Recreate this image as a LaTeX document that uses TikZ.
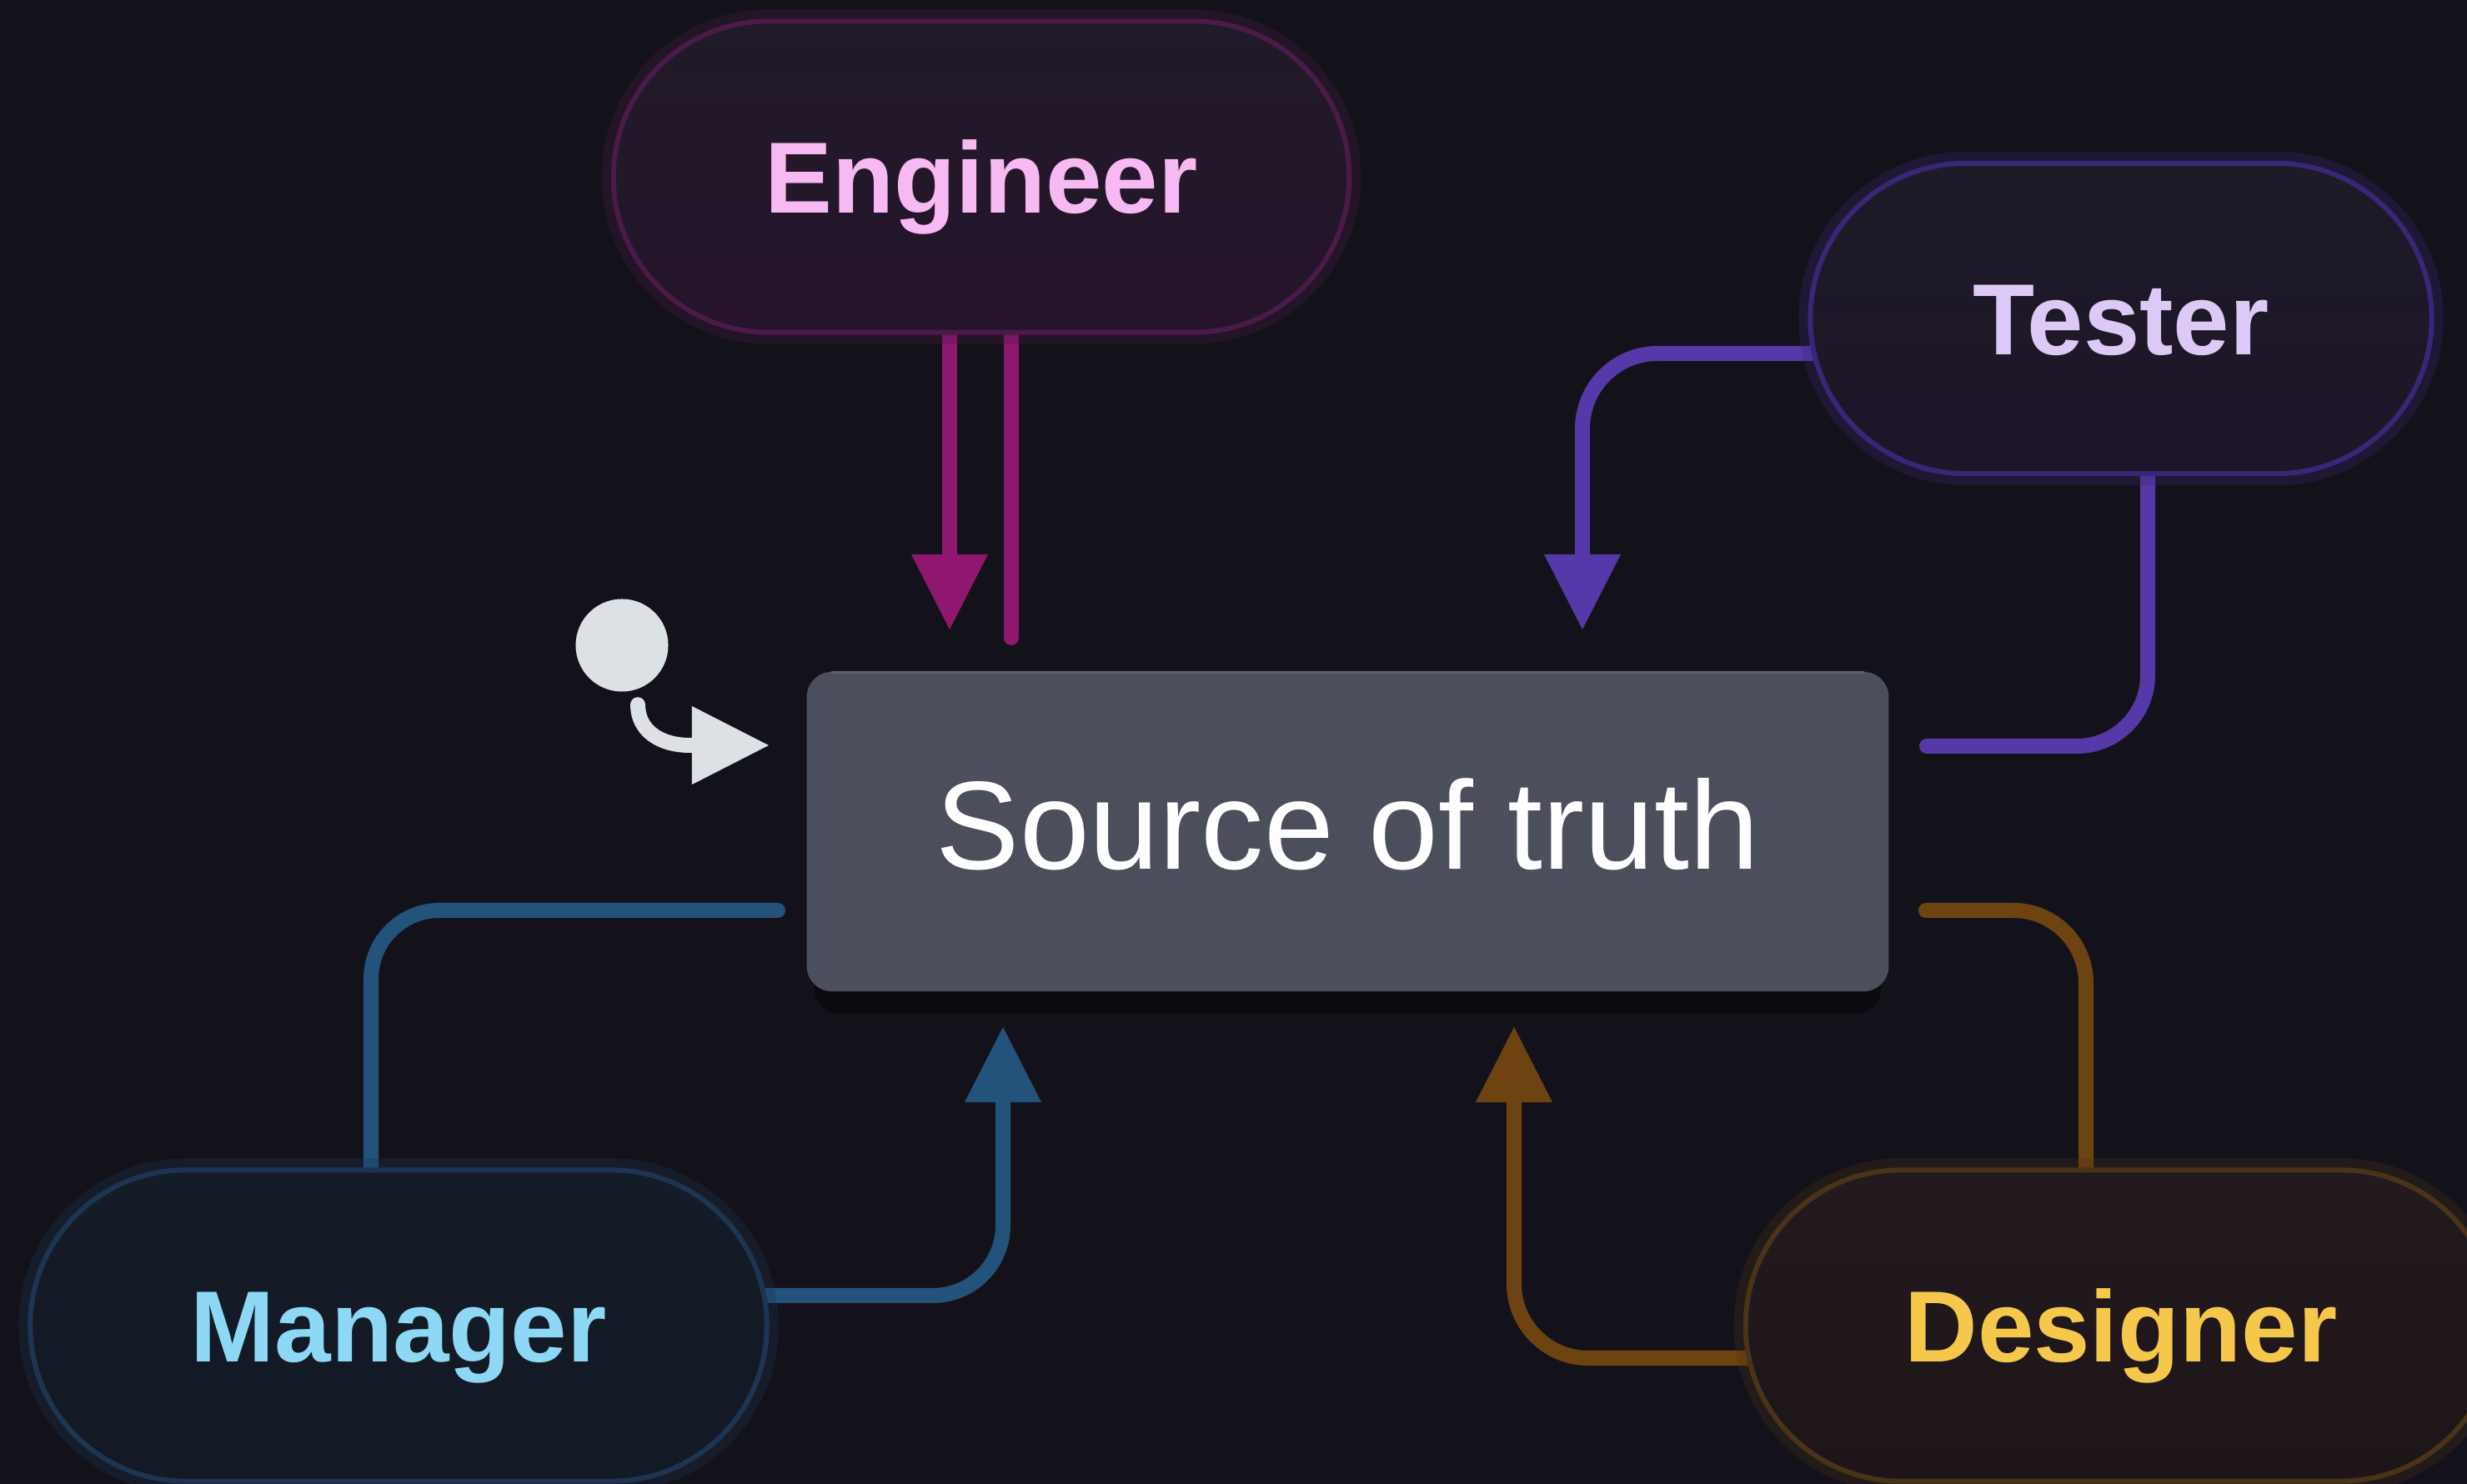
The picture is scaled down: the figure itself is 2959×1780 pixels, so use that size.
\documentclass[tikz,border=0pt]{standalone}
\usepackage{fontspec}
\setmainfont{Liberation Sans}
\usetikzlibrary{arrows.meta,calc}
\definecolor{bgc}{HTML}{13121A}
\definecolor{engline}{HTML}{8F1770}
\definecolor{engtext}{HTML}{F7B9F2}
\definecolor{engborder}{HTML}{4A1A48}
\definecolor{engtop}{HTML}{211A28}
\definecolor{engbot}{HTML}{25142B}
\definecolor{tesline}{HTML}{5539A8}
\definecolor{testext}{HTML}{DCC9F5}
\definecolor{tesborder}{HTML}{392676}
\definecolor{testop}{HTML}{1D1B28}
\definecolor{tesbot}{HTML}{1E1528}
\definecolor{manline}{HTML}{23527A}
\definecolor{mantext}{HTML}{8DD8F5}
\definecolor{manborder}{HTML}{1D3552}
\definecolor{mantop}{HTML}{141C28}
\definecolor{manbot}{HTML}{131925}
\definecolor{desline}{HTML}{6E4312}
\definecolor{destext}{HTML}{F5C84C}
\definecolor{desborder}{HTML}{4A3318}
\definecolor{destop}{HTML}{221A1E}
\definecolor{desbot}{HTML}{1D1518}
\definecolor{srcfill}{HTML}{4B4F5C}
\definecolor{srcedge}{HTML}{5E626D}
\definecolor{shadowc}{HTML}{0A0A0F}
\definecolor{startc}{HTML}{DCE1E5}
\pgfdeclarelayer{back}
\pgfdeclarelayer{conns}
\pgfsetlayers{back,conns,main}
\begin{document}
\begin{tikzpicture}[x=0.01cm,y=-0.01cm,
  pill/.style={rectangle, rounded corners=1.86cm, minimum height=3.73cm, inner sep=0pt,
    line width=0.06cm, font=\fontsize{34.5}{40}\selectfont\bfseries, text height=24.7pt, text depth=0pt},
  glow/.style={preaction={draw=#1, draw opacity=0.3, line width=0.28cm}},
  wire/.style={line width=0.18cm, line cap=round, draw=#1},
  arrowend/.style={-{Triangle[length=0.9cm,width=0.92cm,line width=0pt]}},
]
\useasboundingbox (0,0) rectangle (2959,1780);
\begin{pgfonlayer}{back}
\fill[bgc] (0,0) rectangle (2959,1780);
\end{pgfonlayer}

% nodes
\node[pill, glow=engborder, draw=engborder, top color=engtop, bottom color=engbot, text=engtext,
  minimum width=8.82cm] (eng) at (1177,212) {Engineer};
\node[pill, glow=tesborder, draw=tesborder, top color=testop, bottom color=tesbot, text=testext,
  minimum width=7.45cm, minimum height=3.72cm] (tes) at (2544,382) {Tester};
\node[pill, glow=manborder, draw=manborder, top color=mantop, bottom color=manbot, text=mantext,
  minimum width=8.83cm] (man) at (478,1590) {Manager};
\node[pill, glow=desborder, draw=desborder, top color=destop, bottom color=desbot, text=destext,
  minimum width=9.0cm] (des) at (2544,1590) {Designer};
\node[rectangle, rounded corners=0.3cm, fill=srcfill, minimum width=12.97cm, minimum height=3.83cm,
  inner sep=0pt, text=white, font=\fontsize{42.8}{50}\selectfont, text height=30.6pt, text depth=5pt]
  (src) at (1616.5,997.5) {Source of truth};
\draw[srcedge, line width=0.035cm] ($(src.north west)+(30,1.5)$) -- ($(src.north east)+(-30,1.5)$);
\node[circle, fill=startc, minimum size=1.11cm, inner sep=0pt] (start) at (746,774) {};

% connectors
\coordinate (e1) at (1139,755);
\coordinate (e2) at (1213,765);
\coordinate (t1) at (1898,755);
\coordinate (t2) at (2311,895);
\coordinate (m1) at (933,1092);
\coordinate (m2) at (1203,1232);
\coordinate (d1) at (2310,1092);
\coordinate (d2) at (1816,1232);
\coordinate (s1) at (828,894);
\coordinate (s2) at (922,894);
\begin{pgfonlayer}{conns}
\fill[shadowc, rounded corners=0.3cm] ($(src.south west)+(10,-40)$) rectangle ($(src.south east)+(-10,26)$);
\draw[wire=engline, arrowend] (eng.south -| e1) -- (e1);
\draw[wire=engline] (e2) -- ($(e2 |- eng.south)+(0,-10)$);
\draw[wire=tesline, arrowend, rounded corners=0.9cm] ($(tes.west)+(10,42)$) -| (t1);
\draw[wire=tesline, rounded corners=0.85cm] (t2) -| ($(tes.south)+(32,-10)$);
\draw[wire=manline, rounded corners=0.82cm] (m1) -| ($(man.north)+(-33,10)$);
\draw[wire=manline, arrowend, rounded corners=0.84cm] ($(man.east)+(-8,-36)$) -| (m2);
\draw[wire=desline, rounded corners=0.87cm] (d1) -| ($(des.north)+(-42,10)$);
\draw[wire=desline, arrowend, rounded corners=0.89cm] ($(des.west)+(8,39)$) -| (d2);
\draw[wire=startc, -{Triangle[length=0.92cm,width=0.94cm,line width=0pt]}]
  ($(start.south)+(19,15)$) .. controls +(0,30) and +(-38,0) .. (s1) -- (s2);
\end{pgfonlayer}
\end{tikzpicture}
\end{document}
